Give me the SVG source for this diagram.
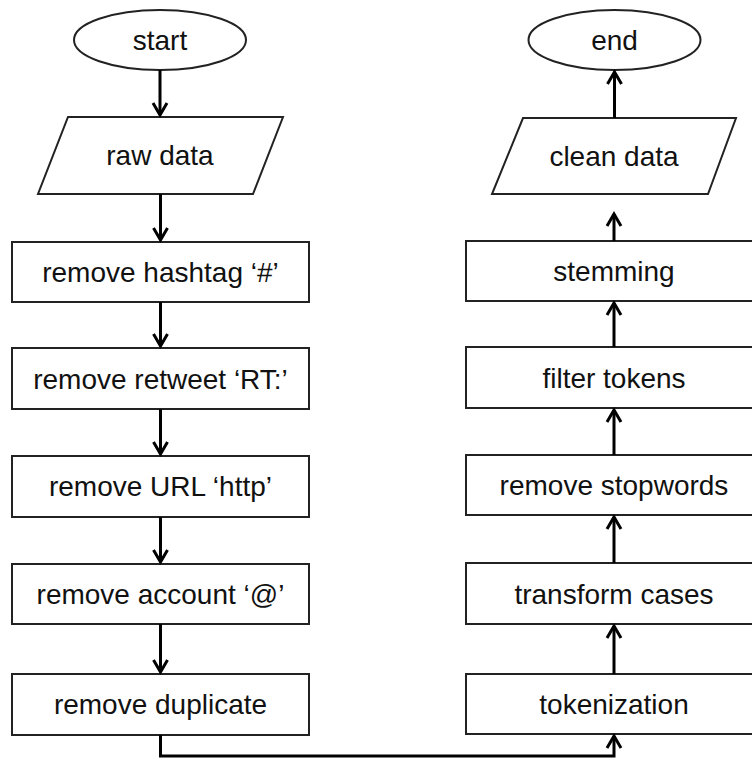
<svg xmlns="http://www.w3.org/2000/svg" width="752" height="762" viewBox="0 0 752 762">
<defs>
<style>
.shape{fill:#fff;stroke:#222;stroke-width:2}
.lbl{font-family:"Liberation Sans",Arial,sans-serif;font-size:28px;fill:#111;text-anchor:middle}
.conn{fill:none;stroke:#000;stroke-width:3}
</style>
<marker id="ah" markerUnits="userSpaceOnUse" markerWidth="30" markerHeight="30" viewBox="-15 -15 30 30" refX="0" refY="0" orient="auto">
<path d="M-12,-7 L0,0 L-12,7" fill="none" stroke="#000" stroke-width="3"/>
</marker>
</defs>
<rect width="752" height="762" fill="#fff"/>
<g id="start"><ellipse class="shape" cx="160" cy="40" rx="86" ry="30"/><text class="lbl" x="160" y="50">start</text></g>
<g id="raw"><polygon class="shape" points="68,117 283,117 253,194 38,194"/><text class="lbl" x="160" y="165">raw data</text></g>
<g id="hashtag"><rect class="shape" x="12" y="242" width="297" height="60"/><text class="lbl" x="160.5" y="282">remove hashtag ‘#’</text></g>
<g id="retweet"><rect class="shape" x="12" y="348" width="297" height="61"/><text class="lbl" x="160.5" y="389">remove retweet ‘RT:’</text></g>
<g id="url"><rect class="shape" x="12" y="456" width="297" height="61"/><text class="lbl" x="160.5" y="496">remove URL ‘http’</text></g>
<g id="account"><rect class="shape" x="12" y="564" width="297" height="60"/><text class="lbl" x="160.5" y="604">remove account ‘@’</text></g>
<g id="duplicate"><rect class="shape" x="12" y="674" width="297" height="61"/><text class="lbl" x="160.5" y="714">remove duplicate</text></g>
<g id="end"><ellipse class="shape" cx="614.5" cy="40" rx="86" ry="30"/><text class="lbl" x="614.5" y="50">end</text></g>
<g id="clean"><polygon class="shape" points="523,118 736,118 708,194 492,194"/><text class="lbl" x="614" y="166">clean data</text></g>
<g id="stemming"><rect class="shape" x="466" y="241" width="296" height="60"/><text class="lbl" x="614" y="281">stemming</text></g>
<g id="filter"><rect class="shape" x="466" y="347" width="296" height="61"/><text class="lbl" x="614" y="388">filter tokens</text></g>
<g id="stopwords"><rect class="shape" x="466" y="455" width="296" height="60"/><text class="lbl" x="614" y="495">remove stopwords</text></g>
<g id="transform"><rect class="shape" x="466" y="563" width="296" height="61"/><text class="lbl" x="614" y="604">transform cases</text></g>
<g id="tokenization"><rect class="shape" x="466" y="674" width="296" height="60"/><text class="lbl" x="614" y="714">tokenization</text></g>
<g id="connectors">
<line class="conn" x1="160" y1="70" x2="160" y2="115" marker-end="url(#ah)"/>
<line class="conn" x1="160.5" y1="194" x2="160.5" y2="240" marker-end="url(#ah)"/>
<line class="conn" x1="160.5" y1="302" x2="160.5" y2="346" marker-end="url(#ah)"/>
<line class="conn" x1="160.5" y1="409" x2="160.5" y2="454" marker-end="url(#ah)"/>
<line class="conn" x1="160.5" y1="517" x2="160.5" y2="562" marker-end="url(#ah)"/>
<line class="conn" x1="160.5" y1="624" x2="160.5" y2="672" marker-end="url(#ah)"/>
<path class="conn" d="M160.5,735 V756 H614 V736" marker-end="url(#ah)"/>
<line class="conn" x1="614" y1="674" x2="614" y2="626" marker-end="url(#ah)"/>
<line class="conn" x1="614" y1="563" x2="614" y2="517" marker-end="url(#ah)"/>
<line class="conn" x1="614" y1="455" x2="614" y2="410" marker-end="url(#ah)"/>
<line class="conn" x1="614" y1="347" x2="614" y2="303" marker-end="url(#ah)"/>
<line class="conn" x1="614" y1="241" x2="614" y2="214" marker-end="url(#ah)"/>
<line class="conn" x1="614.5" y1="118" x2="614.5" y2="72" marker-end="url(#ah)"/>
</g>
</svg>
